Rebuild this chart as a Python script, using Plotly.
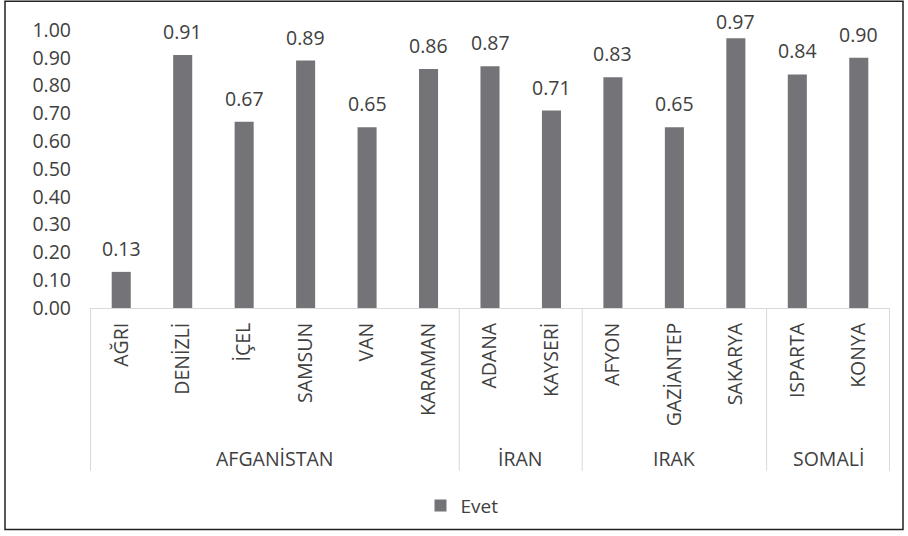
import plotly.graph_objects as go

groups = ["AFGANİSTAN"] * 6 + ["İRAN"] * 2 + ["IRAK"] * 3 + ["SOMALİ"] * 2
cities = ["AĞRI", "DENİZLİ", "İÇEL", "SAMSUN", "VAN", "KARAMAN",
          "ADANA", "KAYSERİ", "AFYON", "GAZİANTEP", "SAKARYA", "ISPARTA", "KONYA"]
evet = [0.13, 0.91, 0.67, 0.89, 0.65, 0.86, 0.87, 0.71, 0.83, 0.65, 0.97, 0.84, 0.90]
y_ticks = [0.0, 0.1, 0.2, 0.3, 0.4, 0.5, 0.6, 0.7, 0.8, 0.9, 1.0]

FONT = "Open Sans"
BAR = "#747478"
TXT = "#404040"
DIV = "#d9d9d9"

# plot area geometry (pixels)
L, R, T, B = 90, 890, 30, 310
PW, PH = R - L, B - T
Y_MAX = 1.0

fig = go.Figure()
fig.add_trace(go.Bar(
    x=cities, y=evet, name="Evet",
    marker=dict(color=BAR, line=dict(width=0)),
    hoverinfo="x+y",
))

# group spans
spans = []
start = 0
for i in range(1, len(groups) + 1):
    if i == len(groups) or groups[i] != groups[start]:
        spans.append((groups[start], start, i - 1))
        start = i

shapes = []
annotations = []
# value labels above bars (kept inside the chart area near the top)
BASE_SHIFT = 8
GAP = 17
MIN_BOTTOM = 28
for c, v in zip(cities, evet):
    bar_top_px = T + (Y_MAX - v) / Y_MAX * PH
    want = bar_top_px - GAP
    push = max(0.0, MIN_BOTTOM - want)
    annotations.append(dict(x=c, y=v, xref="x", yref="y", text=f"{v:.2f}",
                            showarrow=False, yanchor="bottom", yshift=BASE_SHIFT - push,
                            font=dict(family=FONT, size=19.5, color=TXT)))
div_y = -(474 - B) / PH
lab_y = -(462 - B) / PH
for name, a, b in spans:
    annotations.append(dict(x=(a + b) / 2, y=lab_y, xref="x", yref="paper",
                            text=name, showarrow=False, yanchor="middle",
                            font=dict(family=FONT, size=19.5, color=TXT)))
edges = [-0.5] + [b + 0.5 for _, _, b in spans]
for e in edges:
    shapes.append(dict(type="line", xref="x", yref="paper", x0=e, x1=e, y0=0, y1=div_y,
                       line=dict(color=DIV, width=1)))
shapes.append(dict(type="rect", xref="paper", yref="paper",
                   x0=-(L - 5) / PW, x1=(903 - L) / PW, y0=-(533 - B) / PH, y1=(B - 1) / PH,
                   line=dict(color="#222222", width=1.5), fillcolor="rgba(0,0,0,0)", layer="below"))

fig.update_layout(
    width=908, height=536,
    margin=dict(l=L, r=908 - R, t=T, b=536 - B),
    paper_bgcolor="white", plot_bgcolor="white",
    bargap=0.69,
    showlegend=True,
    legend=dict(orientation="h", x=(462 - L) / PW, xanchor="center", y=-(509 - B) / PH, yanchor="middle",
                font=dict(family=FONT, size=19, color=TXT), itemwidth=30),
    font=dict(family=FONT, size=19, color=TXT),
    shapes=shapes, annotations=annotations,
)
fig.update_xaxes(
    type="category", showline=True, linecolor=DIV, linewidth=1, automargin=False,
    tickangle=-90, ticks="", showgrid=False, ticklabelstandoff=6,
    tickfont=dict(family=FONT, size=19.5, color=TXT),
)
fig.update_yaxes(
    range=[0, Y_MAX], tickvals=y_ticks, tickformat=".2f", showgrid=False, automargin=False,
    showline=False, zeroline=False, ticks="", ticklabelstandoff=18,
    tickfont=dict(family=FONT, size=19.5, color=TXT),
)

fig.write_html("out.html", config={"displayModeBar": False},
               post_script="document.body.style.margin='0';document.body.style.overflow='hidden';")
